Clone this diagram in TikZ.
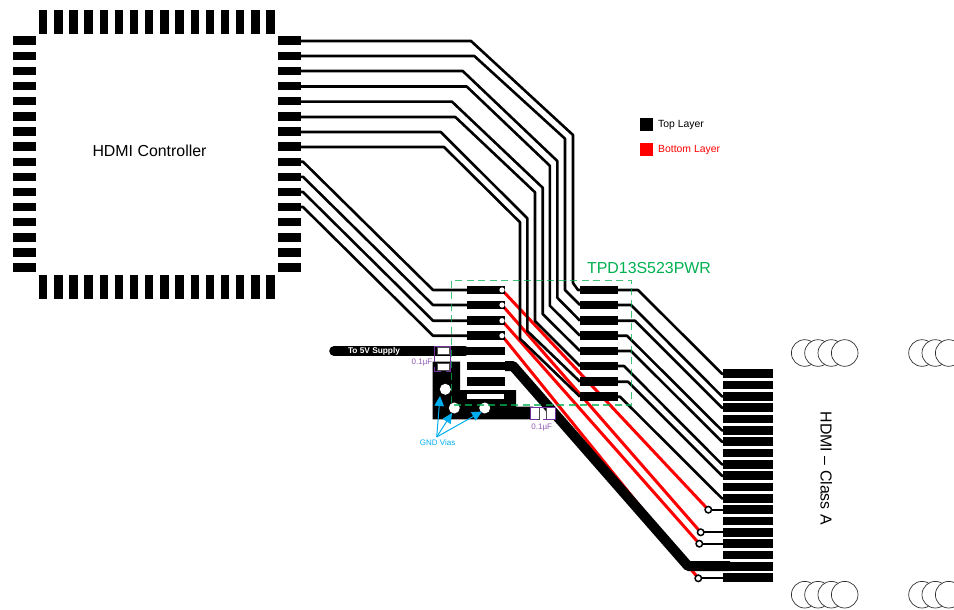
\documentclass[tikz,border=0pt]{standalone}
\usepackage{fontspec}
\setmainfont{Liberation Sans}
\usetikzlibrary{arrows.meta}
\definecolor{grn}{HTML}{00B050}
\definecolor{pur}{HTML}{7030A0}
\definecolor{cyn}{HTML}{00AEEF}
\tikzset{
 pad/.style={fill=black,draw=none},
 trace/.style={draw=black,line width=2.6pt,line join=round},
 redtrace/.style={draw=red,line width=3pt},
 stub/.style={draw=black,line width=2.2pt},
 ring/.style={circle,draw=black,fill=white,line width=1.5pt,minimum size=6.5pt,inner sep=0pt},
 hole/.style={circle,fill=white,minimum size=11pt,inner sep=0pt},
 dot/.style={circle,fill=white,minimum size=5.3pt,inner sep=0pt},
 mount/.style={circle,draw=black!80,fill=white,line width=0.7pt,minimum size=26.6pt,inner sep=0pt},
 lbl/.style={inner sep=0pt,font=\fontsize{15.9pt}{17pt}\selectfont},
 small/.style={inner sep=0pt,font=\fontsize{8pt}{9pt}\selectfont},
 legend/.style={inner sep=0pt,anchor=west,font=\fontsize{10.4pt}{12pt}\selectfont},
 capbox/.style={draw=black!70,fill=white,line width=0.6pt},
 capmark/.style={draw=pur,line width=0.8pt},
 arrowblue/.style={draw=cyn,line width=1pt,-{Triangle[length=10pt,width=9.5pt]}},
}
\begin{document}
\begin{tikzpicture}[x=1pt,y=-1pt]
\useasboundingbox (0,0) rectangle (954,610);
% --- controller pads
\foreach \i in {0,...,15}{
 \pgfmathsetmacro\c{43.2+15.15*\i}
 \fill[pad] (\c-4.2,10) rectangle (\c+4.2,33.7);
 \fill[pad] (\c-4.2,275) rectangle (\c+4.2,298.5);
 \pgfmathsetmacro\d{40.7+15.13*\i}
 \fill[pad] (13,\d-4.2) rectangle (36.3,\d+4.2);
 \fill[pad] (277.5,\d-4.2) rectangle (301,\d+4.2);
}
\node[lbl] (ctrl) at (149.5,151) {HDMI Controller};
% --- legend
\fill[black] (640,118) rectangle (653,131);
\fill[red] (640,143) rectangle (653,156);
\node[legend] (top) at (658,124.7) {Top Layer};
\node[legend,text=red] (bot) at (658,149.7) {Bottom Layer};
% --- red bottom layer traces
\coordinate (v0) at (502,290);
\coordinate (v1) at (502,305);
\coordinate (v2) at (502,320.7);
\coordinate (v3) at (502,335.7);
\coordinate (w0) at (708.3,509.7);
\coordinate (w1) at (700.7,532.3);
\coordinate (w2) at (699.3,543.7);
\coordinate (w3) at (698.3,578.3);
\foreach \k in {0,...,3}{ \draw[redtrace] (v\k) -- (w\k); }
% --- chip pads
\foreach \y in {290,305,320.7,335.7,351,366,381.7}{
 \fill[pad] (467,\y-4.4) rectangle (505,\y+4.4);
}
\foreach \y in {290,305,320.7,335.7,351,366,381.7,396.7}{
 \fill[pad] (580,\y-4.4) rectangle (618,\y+4.4);
}
% --- controller to left side of chip
\draw[trace] (301,161.7) -- (303,161.7) -- (433,290) -- (467,290);
\draw[trace] (301,176.8) -- (303,176.8) -- (433,305) -- (467,305);
\draw[trace] (301,192) -- (303,192) -- (433,320.7) -- (467,320.7);
\draw[trace] (301,207) -- (303,207) -- (433,335.7) -- (467,335.7);
% --- controller to right side of chip
\draw[trace] (301,41) -- (471,41) -- (573,135) -- (573,283) -- (578,290) -- (580,290);
\draw[trace] (301,56) -- (474.3,56) -- (565,138.7) -- (565,290) -- (580,305);
\draw[trace] (301,71) -- (462.7,71) -- (557.3,161) -- (557.3,297.7) -- (580,320.7);
\draw[trace] (301,86.5) -- (466.7,86.5) -- (549.8,165.7) -- (549.8,305.7) -- (580,335.7);
\draw[trace] (301,101.7) -- (452,101.7) -- (542.7,187.7) -- (542.7,314) -- (580,351);
\draw[trace] (301,117) -- (455.3,117) -- (535,192.3) -- (535,321) -- (580,366);
\draw[trace] (301,132) -- (440.7,132) -- (527.3,218.3) -- (527.3,331) -- (580,381.7);
\draw[trace] (301,147) -- (444,147) -- (520,222.3) -- (520,338.7) -- (580,396.7);
% --- chip to connector
\foreach \a/\b/\c in {290/638/373.7,305/631/396.4,320.7/635/407.7,335.7/627/430.4,351/631/441.7,366/624/464.4,381.7/628/475.7,396.7/620/498.4}{
 \draw[trace] (618,\a) -- (\b,\a) -- (722,\c) -- (725,\c);
}
% --- connector pads
\foreach \i in {0,...,18}{
 \pgfmathsetmacro\d{373.7+11.33*\i}
 \fill[pad] (723,\d-4.4) rectangle (773,\d+4.4);
}
% --- power
\draw[draw=black,line width=10pt,line join=round] (505,366) -- (513,366) -- (688,566) -- (730,566);
\draw[draw=black,line width=9.6pt,line cap=round] (334,351) -- (465,351);
\fill[pad] (467,346.6) rectangle (505,355.4);
\node[inner sep=0pt,text=white,font=\bfseries\fontsize{8.3pt}{9pt}\selectfont] (supply) at (374,351.3) {To 5V Supply};
% --- ground plane
\fill[black] (432.7,361.7) -- (460,361.7) -- (460,390) -- (516,390) -- (516,406.5) -- (533,406.5) -- (533,419.3) -- (432.7,419.3) -- cycle;
\fill[white] (467.3,393.5) rectangle (504,399.3);
\node[hole] (g1) at (445.3,389.3) {};
\node[hole] (g2) at (454.3,408) {};
\node[hole] (g3) at (484.7,408) {};
% --- vias
\node[dot] at (v0) {};
\node[dot] at (v1) {};
\node[dot] at (v2) {};
\node[dot] at (v3) {};
\foreach \k/\y in {0/509.7,1/532.3,2/543.7,3/578.3}{
 \draw[stub] (w\k) -- (725,\y);
 \node[ring] at (w\k) {};
}
% --- capacitors
\draw[capbox] (437,347.7) rectangle (449,354.3);
\draw[capbox] (437.3,363.3) rectangle (449.3,370.7);
\draw[capmark] (434.5,362) -- (434.5,346.7) -- (450,346.7) -- (450,371.5) -- (446,371.5);
\draw[capmark] (434.5,367) -- (434.5,371.5) -- (441,371.5);
\draw[capbox] (530.7,407.3) rectangle (539.3,419.3);
\draw[capbox] (546.7,407.3) rectangle (555,419.3);
\draw[capmark] (531,419.5) -- (538,419.5);
\draw[capmark] (543,419.5) -- (555.5,419.5) -- (555.5,407) -- (530,407) -- (530,419.5) -- (532,419.5);
\node[small,text=pur!80] (c1) at (422,362.3) {0.1µF};
\node[small,text=pur!80] (c2) at (541.7,427.3) {0.1µF};
% --- outline
\draw[draw=grn,draw opacity=.75,line width=1.2pt,dash pattern=on 7pt off 4.5pt] (451.7,280.7) rectangle (631.7,405);
\node[lbl,text=grn] (tpd) at (649,268) {TPD13S523PWR};
% --- GND vias callout
\node[small,text=cyn] (gnd) at (437.7,443) {GND Vias};
\coordinate (gs) at (436.7,437);
\coordinate (a1) at (440,396);
\coordinate (a2) at (452,413);
\coordinate (a3) at (482,411.5);
\draw[arrowblue] (gs) -- (a1);
\draw[arrowblue] (gs) -- (a2);
\draw[arrowblue] (gs) -- (a3);
% --- connector label
\node[lbl,rotate=-90] (hdmi) at (826.3,468.3) {HDMI – Class A};
% --- mounting circles
\foreach \y in {353,594.7}{
 \foreach \x in {804.7,818,831.3,844.7,922,935.3,948.7}{
  \node[mount] at (\x,\y) {};
 }
}
\end{tikzpicture}
\end{document}
